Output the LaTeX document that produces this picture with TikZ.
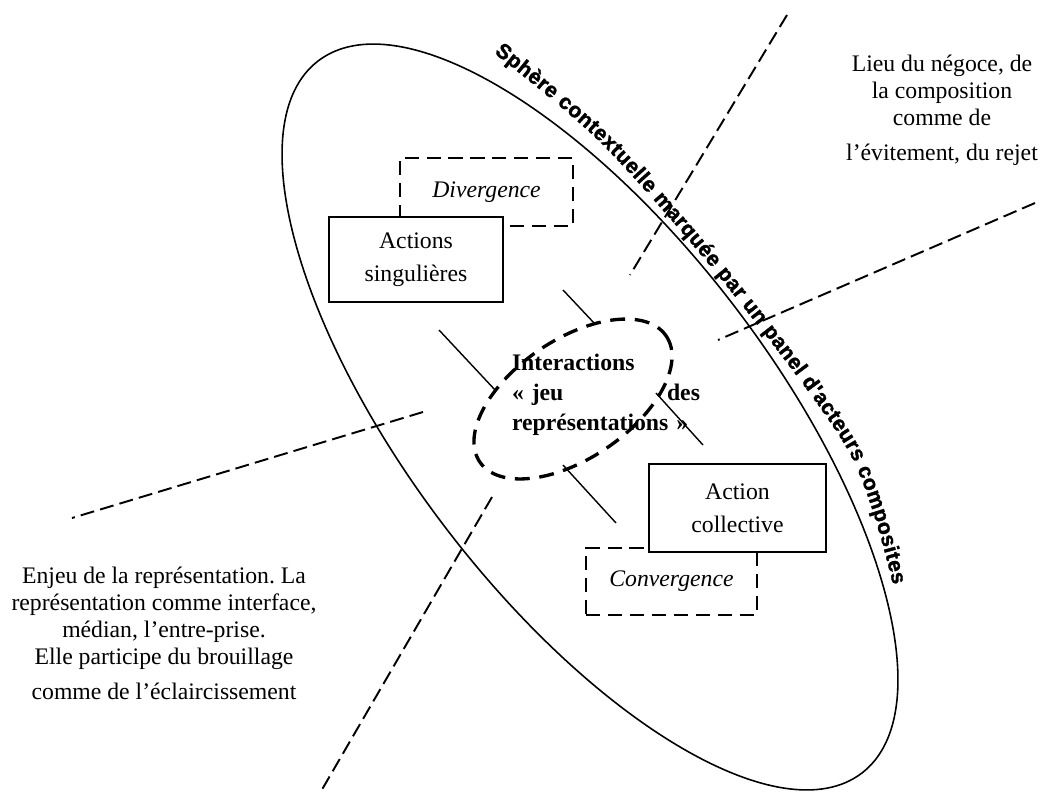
\documentclass[tikz,border=0pt]{standalone}
\usepackage{fontspec}
\setmainfont{Liberation Serif}
\newfontfamily\wordart{Liberation Sans}[BoldFeatures={FakeBold=1.6}]
\usetikzlibrary{decorations.text}
\frenchspacing

\begin{document}
\begin{tikzpicture}[x=0.02cm,y=-0.02cm]

\tikzstyle{axe}=[line width=1.1pt,dash pattern=on 8pt off 3.5pt]
\tikzstyle{bloc}=[draw,line width=0.8pt,fill=white,align=center,inner sep=0pt,font=\fontsize{13.5}{18.7}\selectfont]
\tikzstyle{pole}=[draw,line width=0.8pt,dash pattern=on 8pt off 4.5pt,inner sep=0pt,font=\fontsize{13.5}{16}\selectfont\itshape]
\tikzstyle{lien}=[line width=0.8pt]
\tikzstyle{glose}=[align=center,font=\fontsize{13.5}{15.4}\selectfont]

\useasboundingbox (0,0) rectangle (1046,795);

% Sphère contextuelle

\draw [line width=0.9pt,rotate around={-52.65:(590,417)}] (590,417) ellipse [x radius=448, y radius=182];

% Axes

\coordinate (a1) at (787,15);
\coordinate (a2) at (630,275);
\coordinate (a3) at (492,497);
\coordinate (a4) at (320,793);
\coordinate (b1) at (1035,203);
\coordinate (b2) at (718,340);
\coordinate (b3) at (423,412);
\coordinate (b4) at (72,518);

\draw [axe] (a1) -- (a2);
\draw [axe] (a3) -- (a4);
\draw [axe] (b1) -- (b2);
\draw [axe] (b3) -- (b4);

% Pôles

\node (div) [pole,minimum width=3.46cm,minimum height=1.36cm] at (486.5,192) {Divergence};
\node (sing) [bloc,minimum width=3.48cm,minimum height=1.7cm] at (416,259.5) {Actions\\singulières};

\node (conv) [pole,minimum width=3.42cm,minimum height=1.34cm] at (671.5,581.5) {Convergence};
\node (coll) [bloc,minimum width=3.54cm,minimum height=1.76cm] at (737.5,508) {Action\\collective};

% Interactions

\draw [line width=1.9pt,dash pattern=on 8.5pt off 5.5pt,rotate around={34:(573,399)}] (573,399) ellipse [x radius=112.5, y radius=59.5];

\node (inter) [align=left,text width=3.76cm,inner sep=0pt,font=\fontsize{13.5}{17}\selectfont\bfseries] at (606,395) {Interactions\\«~jeu\hfill des\\représentations~»};

\coordinate (l1a) at (563,290);
\coordinate (l1b) at (595,324);
\coordinate (l2a) at (439,330);
\coordinate (l2b) at (496,391);
\coordinate (l3a) at (656,393);
\coordinate (l3b) at (703,445);
\coordinate (l4a) at (563,465);
\coordinate (l4b) at (616,523);

\draw [lien] (l1a) -- (l1b);
\draw [lien] (l2a) -- (l2b);
\draw [lien] (l3a) -- (l3b);
\draw [lien] (l4a) -- (l4b);

% Gloses

\node (enjeu) [glose] at (164,633) {Enjeu de la représentation. La\\représentation comme interface,\\médian, l’entre-prise.\\Elle participe du brouillage\\[4.5pt]comme de l’éclaircissement};

\node (lieu) [glose] at (942,110) {Lieu du négoce, de\\la composition\\comme de\\[4.5pt]l’évitement, du rejet};

% Texte le long de la sphère

\path [decorate,decoration={text along path,text align={fit to path},text={|\wordart\bfseries\fontsize{12}{12}\selectfont|Sphère contextuelle marquée par un panel d'acteurs composites}}] plot [smooth] coordinates {(494,53) (601,143) (725,284) (849,452) (893,585)};

\end{tikzpicture}
\end{document}
